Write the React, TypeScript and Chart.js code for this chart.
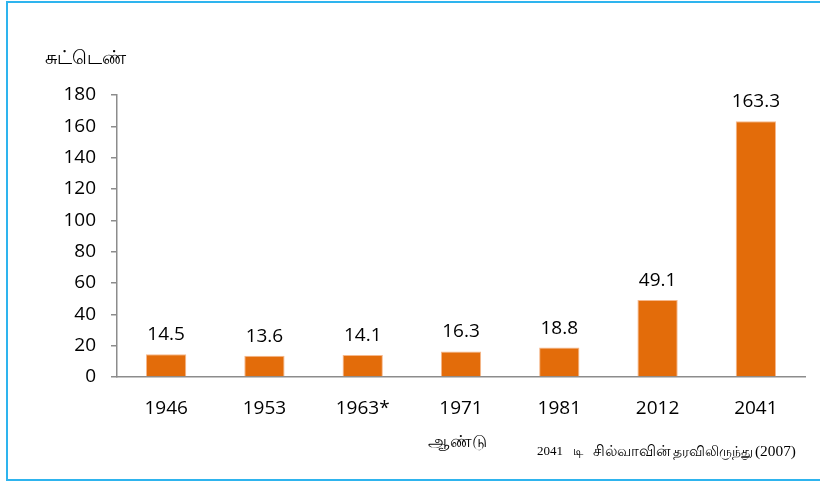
import React, { useEffect, useRef } from "react";
import { Chart, registerables } from "chart.js";

Chart.register(...registerables);

const years = ["1946", "1953", "1963*", "1971", "1981", "2012", "2041"];
const values = [14.5, 13.6, 14.1, 16.3, 18.8, 49.1, 163.3];
const yMin = 0;
const yMax = 180;
const yStep = 20;
const yTitle = "சுட்டெண்";
const xTitle = "ஆண்டு";
const noteParts = ["2041", "டி", "சில்வாவின்", "தரவிலிருந்து", "(2007)"];

const FONT = "'Open Sans', 'Noto Sans', sans-serif";
const SERIF = "'Liberation Serif', serif";

function fitText(ctx: CanvasRenderingContext2D, text: string, x: number, y: number, w: number, family: string, align: CanvasTextAlign) {
  ctx.font = `100px ${family}`;
  const m = ctx.measureText(text).width || 1;
  const size = (100 * w) / m;
  ctx.font = `${size}px ${family}`;
  ctx.textAlign = align;
  ctx.fillText(text, x, y);
}

const textPlugin = {
  id: "extraText",
  afterDatasetsDraw(chart: any) {
    const ctx = chart.ctx;
    const meta = chart.getDatasetMeta(0);
    ctx.save();
    ctx.fillStyle = "#000";
    ctx.font = `19px ${FONT}`;
    ctx.textAlign = "center";
    ctx.textBaseline = "alphabetic";
    meta.data.forEach((bar: any, i: number) => {
      ctx.fillText(values[i].toFixed(1), bar.x, bar.y - 14);
    });
    ctx.restore();
  },
  afterDraw(chart: any) {
    const ctx = chart.ctx;
    ctx.save();
    ctx.fillStyle = "#000";
    ctx.textBaseline = "middle";
    fitText(ctx, yTitle, 45, 59, 83, FONT, "left");
    fitText(ctx, xTitle, 428, 442, 58, FONT, "left");
    const xs = [537, 573, 593, 673, 755];
    const ws = [26, 10, 80, 82, 41];
    noteParts.forEach((p, i) => {
      fitText(ctx, p, xs[i], 452, ws[i], SERIF, "left");
    });
    ctx.restore();
  },
};

export default function App() {
  const ref = useRef<HTMLCanvasElement | null>(null);
  useEffect(() => {
    if (!ref.current) return;
    const chart = new Chart(ref.current, {
      type: "bar",
      data: {
        labels: years,
        datasets: [
          {
            data: values,
            backgroundColor: "#E36C0A",
            borderColor: "#F6B88C",
            borderWidth: 1,
            barPercentage: 0.41,
            categoryPercentage: 1,
          },
        ],
      },
      options: {
        animation: false,
        responsive: false,
        maintainAspectRatio: false,
        layout: { padding: { left: 0, right: 15, top: 95, bottom: 0 } },
        plugins: { legend: { display: false }, tooltip: { enabled: false } },
        scales: {
          x: {
            grid: { display: false, drawTicks: false },
            border: { display: true, color: "#8C8C8C", width: 1.5 },
            ticks: { color: "#000", font: { family: FONT, size: 19 }, padding: 20 },
            afterFit: (s: any) => {
              s.height = 105;
            },
          },
          y: {
            min: yMin,
            max: yMax,
            ticks: { stepSize: yStep, color: "#000", font: { family: FONT, size: 19 }, padding: 15 },
            grid: { display: true, drawOnChartArea: false, drawTicks: true, tickLength: 6, color: "#8C8C8C", lineWidth: 1.5 },
            border: { display: true, color: "#8C8C8C", width: 1.5 },
            afterFit: (s: any) => {
              s.width = 117;
            },
          },
        },
      },
      plugins: [textPlugin],
    });
    return () => chart.destroy();
  }, []);
  return (
    <div style={{ position: "fixed", left: 0, top: 0, width: 820, height: 482, overflow: "hidden", background: "#fff" }}>
      <canvas ref={ref} width={820} height={482} style={{ position: "absolute", left: 0, top: 0 }} />
      <div
        style={{
          position: "absolute",
          left: 6,
          top: 1,
          width: 900,
          height: 480,
          boxSizing: "border-box",
          border: "2px solid #2EB4EE",
          pointerEvents: "none",
        }}
      />
    </div>
  );
}
